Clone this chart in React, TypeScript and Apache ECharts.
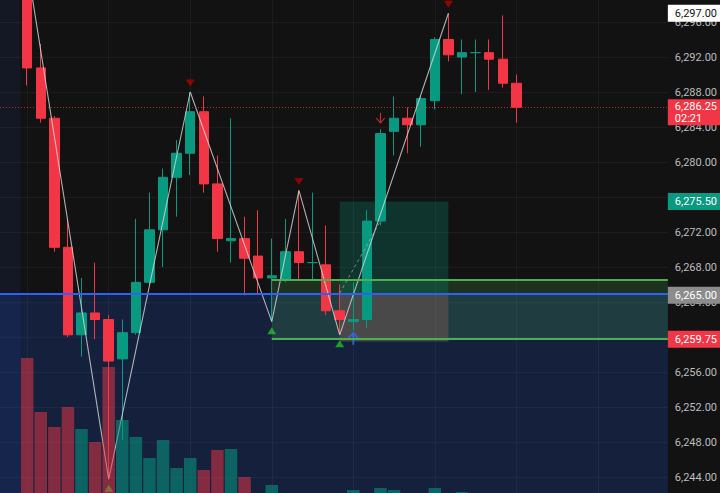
import React, { useEffect, useRef } from 'react';
import * as echarts from 'echarts';

// ---- OHLC data (bar index = position on the time scale) ----
const opens = [6301, 6290.75, 6285, 6270.25, 6260.25, 6262.75, 6262, 6257.5, 6260.5, 6266.25, 6272.25, 6278.25, 6281, 6285.75, 6277.5, 6271, 6271.25, 6269.25, 6266.75, 6266.5, 6269.75, 6268.5, 6268.25, 6263, 6261.75, 6262, 6273.25, 6283.5, 6285, 6284.25, 6287, 6294, 6292, 6292.5, 6292.5, 6291.75, 6289];
const closes = [6290.75, 6285, 6270.25, 6260.25, 6262.75, 6262, 6257.25, 6260.5, 6266.25, 6272.25, 6278.25, 6281, 6285.75, 6277.5, 6271.25, 6271.25, 6269, 6266.75, 6267, 6269.75, 6268.5, 6268.5, 6263, 6262, 6262, 6273.25, 6283.25, 6285, 6284.25, 6287.25, 6294, 6292.25, 6292.5, 6292.5, 6291.75, 6289, 6286.25];
const lows = [6288.75, 6284.5, 6269.75, 6260, 6257.75, 6259.75, 6243.75, 6248.25, 6260.25, 6266, 6268, 6273.75, 6278.5, 6276.5, 6269.75, 6268.5, 6264.75, 6265, 6261.75, 6266.25, 6266.5, 6266.5, 6262.5, 6260.25, 6260.75, 6261, 6272.75, 6280.75, 6281, 6281.75, 6286, 6291.5, 6287.75, 6288, 6288.25, 6288.5, 6284.5];
const highs = [6302.5, 6293.5, 6285.25, 6273.5, 6266.75, 6268.5, 6262.5, 6262, 6273.5, 6276.5, 6279.25, 6282.5, 6288, 6287.5, 6280.75, 6285, 6273.75, 6274.5, 6271.25, 6273.5, 6276.75, 6276.5, 6272.75, 6266, 6266.25, 6274.5, 6283.75, 6287.5, 6286.25, 6287.5, 6294.25, 6297, 6294, 6294, 6294, 6296.75, 6290];
const volumes = [15400, 10000, 8500, 10500, 8300, 7000, 14500, 9200, 7500, 5400, 7200, 4400, 5400, 4200, 6200, 6300, 3500, 1700, 2700, 1500, 1800, 1300, 1800, 1700, 2200, 1800, 2400, 2200, 1500, 1700, 2400, 1800, 2000, 1200, 1400, 1600, 1000];

// ---- zigzag pivots ----
const zigzagPoints = [[0, 6302.5], [6, 6243.75], [12, 6288], [18, 6261.75], [20, 6276.75], [23, 6260.25], [31, 6297]];
const pivotHighs = [[12, 6288], [20, 6276.75], [31, 6297]];
const pivotLows = [[6, 6243.75], [18, 6261.75], [23, 6260.25]];

// ---- signals ----
const sellSignals = [[26, 6283.75]];
const buySignals = [[24, 6261]];

// ---- levels ----
const lastPrice = 6286.25;
const countdown = '02:21';
const highMark = 6297;
const blueLevel = 6265;
const zoneTop = 6266.5;
const zoneBottom = 6259.75;
const zoneStartIdx = 18;
const posStartIdx = 23;
const posEndIdx = 31;
const posEntry = 6265;
const posTarget = 6275.5;
const posStop = 6259.5;
const posLineEnd = [26, 6273.25];
const sessionEndIdx = -0.5;
const timeGridIdx = [0, 6, 12, 18, 24, 30, 36, 42];
const hiddenTicks = [6240, 6260, 6300];

// ---- axes ----
const xMin = -2;
const xMax = 47.15;
const yMin = 6240;
const yMax = 6300;
const yStep = 4;

const UP = '#089981';
const DOWN = '#f23645';
const FONT = 'Roboto, "Liberation Sans", sans-serif';

const fmt = (v: any) =>
  Number(v).toLocaleString('en-US', { minimumFractionDigits: 2, maximumFractionDigits: 2 });

const tagLabel = (bg: string, color: string, value: number, extra: any = {}) => ({
  show: true,
  position: 'end',
  distance: 0,
  backgroundColor: bg,
  color,
  fontFamily: FONT,
  fontSize: 11,
  padding: [3, 6, 3, 7],
  align: 'left',
  formatter: () => fmt(value),
  ...extra,
});

export default function App() {
  const ref = useRef<HTMLDivElement>(null);

  useEffect(() => {
    if (!ref.current) return;
    const chart = echarts.init(ref.current, null, { renderer: 'svg' });

    const candleData = opens.map((o, i) => [i, o, closes[i], lows[i], highs[i]]);
    const volData = volumes.map((v, i) => ({
      value: [i, v],
      itemStyle: { color: closes[i] >= opens[i] ? 'rgba(8,153,129,0.55)' : 'rgba(242,54,69,0.5)' },
    }));

    const option: any = {
      animation: false,
      backgroundColor: '#121212',
      grid: { left: 0, right: 50, top: 0, bottom: 0, containLabel: false },
      xAxis: {
        type: 'value',
        min: xMin,
        max: xMax,
        show: false,
        splitLine: { show: false },
      },
      yAxis: [
        {
          type: 'value',
          position: 'right',
          min: yMin,
          max: yMax,
          interval: yStep,
          axisLine: { show: false },
          axisTick: { show: false },
          axisLabel: {
            color: '#bdbdbd',
            fontFamily: FONT,
            fontSize: 11,
            margin: 7,
            formatter: (v: number) => (hiddenTicks.includes(v) ? '' : fmt(v)),
          },
          splitLine: { show: true, lineStyle: { color: 'rgba(255,255,255,0.045)', width: 1 } },
        },
        { type: 'value', min: 0, max: 52500, show: false, splitLine: { show: false } },
      ],
      series: [
        {
          name: 'bg',
          type: 'line',
          data: [],
          z: 1,
          silent: true,
          markArea: {
            z: 1,
            silent: true,
            data: [
              [{ yAxis: blueLevel, itemStyle: { color: 'rgba(41,98,255,0.18)' } }, { yAxis: yMin }],
              [{ xAxis: xMin, itemStyle: { color: 'rgba(41,98,255,0.08)' } }, { xAxis: sessionEndIdx }],
              [
                { coord: [zoneStartIdx, zoneTop], itemStyle: { color: 'rgba(76,175,80,0.2)' } },
                { coord: [xMax, zoneBottom] },
              ],
              [
                { coord: [posStartIdx, posTarget], itemStyle: { color: 'rgba(8,153,129,0.25)' } },
                { coord: [posEndIdx, posEntry] },
              ],
              [
                { coord: [posStartIdx, posEntry], itemStyle: { color: 'rgba(80,75,74,0.85)' } },
                { coord: [posEndIdx, posStop] },
              ],
            ],
          },
          markLine: {
            z: 1,
            silent: true,
            symbol: 'none',
            label: { show: false },
            lineStyle: { color: 'rgba(255,255,255,0.045)', type: 'solid', width: 1 },
            data: timeGridIdx.map((x) => ({ xAxis: x })),
          },
        },
        {
          name: 'price',
          type: 'candlestick',
          z: 2,
          data: candleData,
          encode: { x: 0, y: [1, 2, 3, 4] },
          barWidth: 10,
          itemStyle: {
            color: UP,
            color0: DOWN,
            borderColor: UP,
            borderColor0: DOWN,
            borderWidth: 1,
          },
        },
        {
          name: 'zigzag',
          type: 'line',
          z: 3,
          data: zigzagPoints,
          showSymbol: false,
          symbol: 'none',
          lineStyle: { color: 'rgba(215,215,215,0.8)', width: 1.1 },
        },
        {
          name: 'pivotHigh',
          type: 'scatter',
          z: 3,
          data: pivotHighs,
          symbol: 'triangle',
          symbolRotate: 180,
          symbolSize: [9, 7],
          symbolOffset: [0, -9],
          itemStyle: { color: '#b00000' },
        },
        {
          name: 'pivotLow',
          type: 'scatter',
          z: 3,
          data: pivotLows,
          symbol: 'triangle',
          symbolSize: [9, 7],
          symbolOffset: [0, 9],
          itemStyle: { color: '#1fbf2a' },
        },
        {
          name: 'volume',
          type: 'bar',
          z: 4,
          yAxisIndex: 1,
          barWidth: 12.5,
          data: volData,
        },
        {
          name: 'sell',
          type: 'scatter',
          z: 5,
          data: sellSignals,
          symbol: 'path://M4.4,0 L5.6,0 L5.6,8.6 L9.2,5 L10,5.8 L5,10.8 L0,5.8 L0.8,5 L4.4,8.6 Z',
          symbolSize: [9, 11],
          symbolOffset: [0, -11],
          itemStyle: { color: DOWN },
        },
        {
          name: 'buy',
          type: 'scatter',
          z: 5,
          data: buySignals,
          symbol: 'path://M5,0 L10,5 L8.8,6.2 L5.9,3.3 L5.9,12 L4.1,12 L4.1,3.3 L1.2,6.2 L0,5 Z',
          symbolSize: [11, 13],
          symbolOffset: [0, 10],
          itemStyle: { color: '#2f6bff' },
        },
        {
          name: 'levels',
          type: 'line',
          data: [],
          z: 6,
          silent: true,
          markLine: {
            z: 6,
            silent: true,
            symbol: 'none',
            label: { show: false },
            data: [
              {
                yAxis: highMark,
                lineStyle: { color: 'rgba(0,0,0,0)', width: 0 },
                label: tagLabel('#ffffff', '#131313', highMark),
              },
              {
                yAxis: posTarget,
                lineStyle: { color: 'rgba(0,0,0,0)', width: 0 },
                label: tagLabel(UP, '#ffffff', posTarget),
              },
              {
                yAxis: blueLevel,
                lineStyle: { color: '#2962ff', width: 2, type: 'solid' },
                label: tagLabel('#8c8c8c', '#ffffff', blueLevel, { offset: [0, 2] }),
              },
              [
                { coord: [zoneStartIdx, zoneTop], lineStyle: { color: '#4caf50', width: 2, type: 'solid' } },
                { coord: [xMax, zoneTop] },
              ],
              [
                {
                  coord: [zoneStartIdx, zoneBottom],
                  lineStyle: { color: '#4caf50', width: 2, type: 'solid' },
                  label: tagLabel(DOWN, '#ffffff', zoneBottom),
                },
                { coord: [xMax, zoneBottom] },
              ],
              [
                {
                  coord: [posStartIdx, posEntry],
                  lineStyle: { color: 'rgba(200,200,200,0.55)', width: 1, type: [3, 3] },
                },
                { coord: posLineEnd },
              ],
              {
                yAxis: lastPrice,
                lineStyle: { color: 'rgba(242,54,69,0.7)', width: 1, type: [1, 2] },
                label: tagLabel(DOWN, '#ffffff', lastPrice, {
                  formatter: () => fmt(lastPrice) + '\n' + countdown,
                  lineHeight: 12,
                  padding: [1, 6, 1, 7],
                  offset: [0, 5],
                }),
              },
            ],
          },
        },
      ],
    };

    chart.setOption(option);
    return () => chart.dispose();
  }, []);

  return (
    <div
      ref={ref}
      style={{ position: 'fixed', left: 0, top: -13, width: 720, height: 525, background: '#121212' }}
    />
  );
}
